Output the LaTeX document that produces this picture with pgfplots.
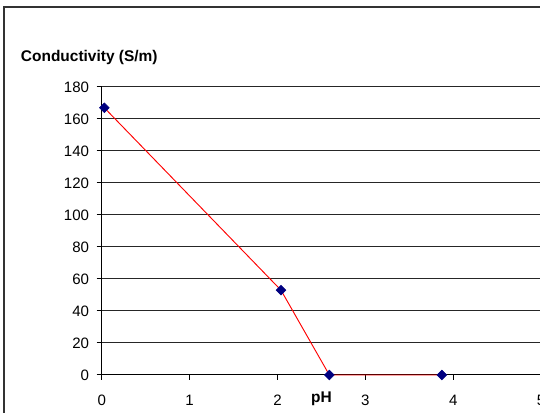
\documentclass[border=0pt]{standalone}
\usepackage{pgfplots}
\pgfplotsset{compat=1.18}
\usepackage{fontspec}
\setmainfont{Liberation Sans}
\definecolor{mknavy}{HTML}{000080}
\begin{document}
\begin{tikzpicture}[x=0.75pt,y=0.75pt]
% picture area = 540 x 413 px, 1 px = 0.75pt
\path[use as bounding box,clip] (0,0) rectangle (540,413);
\draw[line width=0.8pt, black!80] (4,413-7) rectangle (560,-20);
\node[anchor=base west, inner sep=0pt, font=\fontsize{11.6}{13}\selectfont\bfseries] at (20.7,413-62) {Conductivity (S/m)};
\begin{axis}[
  at={(76.275pt,28.5pt)}, anchor=south west,
  scale only axis,
  width=329.6pt, height=216pt,
  xmin=0, xmax=5, ymin=0, ymax=180,
  xtick={0,1,2,3,4,5}, ytick={0,20,...,180},
  axis x line=bottom, axis y line=left,
  axis line style={-, black, line width=0.75pt},
  tick align=outside, major tick length=3.75pt,
  tick style={black, line width=0.75pt},
  ymajorgrids, major grid style={black!85, line width=0.75pt},
  /pgf/number format/assume math mode=true,
  ticklabel style={font=\fontsize{11.3}{13}\selectfont, inner sep=0pt},
  yticklabel style={anchor=east, xshift=-5.5pt},
  xticklabel style={anchor=base, yshift=-19pt},
  xlabel={\bfseries pH},
  xlabel style={at={(axis description cs:0.5,0)}, anchor=base, inner sep=0pt, yshift=-21pt, font=\fontsize{11.6}{13}\selectfont},
  clip=false,
]
\addplot[red, line width=0.7pt, mark=square*, mark options={rotate=45, mknavy, fill=mknavy, line width=0.4pt}, mark size=2.6pt]
  coordinates {(0.03,167) (2.04,53) (2.59,0) (3.87,0)};
\end{axis}
\end{tikzpicture}
\end{document}
